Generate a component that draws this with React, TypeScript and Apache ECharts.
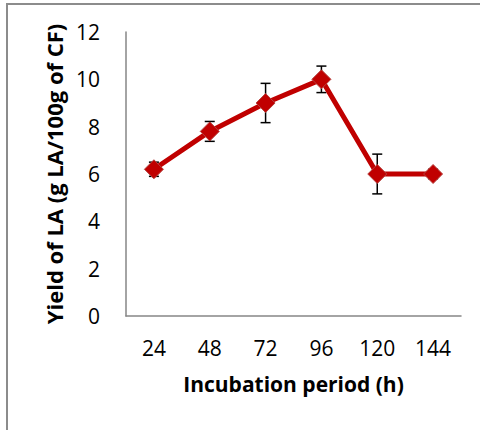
import React, { useEffect, useRef } from "react";
import * as echarts from "echarts";

const hours = ["24", "48", "72", "96", "120", "144"];
const yieldLA = [6.2, 7.8, 9.0, 10.0, 6.0, 6.0];
const yieldErr = [0.3, 0.42, 0.83, 0.56, 0.84, 0.2];
const yTicks = [0, 2, 4, 6, 8, 10, 12];

const FONT = "'Open Sans', 'Liberation Sans', sans-serif";
const RED = "#c00000";

export default function App() {
  const ref = useRef<HTMLDivElement>(null);

  useEffect(() => {
    if (!ref.current) return;
    const chart = echarts.init(ref.current, null, { renderer: "svg" });

    const errData = hours.map((h, i) => [i, yieldLA[i] - yieldErr[i], yieldLA[i] + yieldErr[i]]);

    chart.setOption({
      animation: false,
      backgroundColor: "#ffffff",
      textStyle: { fontFamily: FONT },
      graphic: [
        {
          type: "line",
          shape: { x1: 6, y1: 4, x2: 480, y2: 4 },
          style: { stroke: "#8c8c8c", lineWidth: 2 },
        },
        {
          type: "line",
          shape: { x1: 7, y1: 4, x2: 7, y2: 430 },
          style: { stroke: "#8c8c8c", lineWidth: 2 },
        },
      ],
      grid: { left: 126, right: 19, top: 32, bottom: 114 },
      xAxis: {
        type: "category",
        data: hours,
        boundaryGap: true,
        axisLine: { lineStyle: { color: "#868686", width: 1.5 } },
        axisTick: { show: false },
        axisLabel: { color: "#000", fontSize: 21, margin: 21, fontFamily: FONT },
        name: "Incubation period (h)",
        nameLocation: "middle",
        nameGap: 57,
        nameTextStyle: { color: "#000", fontSize: 21, fontWeight: "bold", fontFamily: FONT },
      },
      yAxis: {
        type: "value",
        min: yTicks[0],
        max: yTicks[yTicks.length - 1],
        interval: 2,
        axisLine: { show: true, lineStyle: { color: "#868686", width: 1.5 } },
        axisTick: { show: false },
        splitLine: { show: false },
        axisLabel: { color: "#000", fontSize: 21, margin: 26, fontFamily: FONT },
        name: "Yield of LA (g LA/100g of CF)",
        nameLocation: "middle",
        nameGap: 58,
        nameTextStyle: { color: "#000", fontSize: 22, fontWeight: "bold", fontFamily: FONT },
      },
      series: [
        {
          type: "custom",
          z: 1,
          data: errData,
          renderItem: (_params: any, api: any) => {
            const x = api.value(0);
            const lo = api.coord([x, api.value(1)]);
            const hi = api.coord([x, api.value(2)]);
            const cap = 5;
            const style = { stroke: "#000", lineWidth: 1.5 };
            return {
              type: "group",
              children: [
                { type: "line", shape: { x1: lo[0], y1: lo[1], x2: hi[0], y2: hi[1] }, style },
                { type: "line", shape: { x1: lo[0] - cap, y1: lo[1], x2: lo[0] + cap, y2: lo[1] }, style },
                { type: "line", shape: { x1: hi[0] - cap, y1: hi[1], x2: hi[0] + cap, y2: hi[1] }, style },
              ],
            };
          },
        },
        {
          type: "line",
          z: 3,
          data: yieldLA,
          symbol: "diamond",
          symbolSize: 19,
          lineStyle: { color: RED, width: 5 },
          itemStyle: { color: RED, borderColor: "#b5413e", borderWidth: 1 },
        },
      ],
    });

    return () => chart.dispose();
  }, []);

  return (
    <div
      ref={ref}
      style={{ position: "fixed", left: 0, top: 0, width: 480, height: 430 }}
    />
  );
}
